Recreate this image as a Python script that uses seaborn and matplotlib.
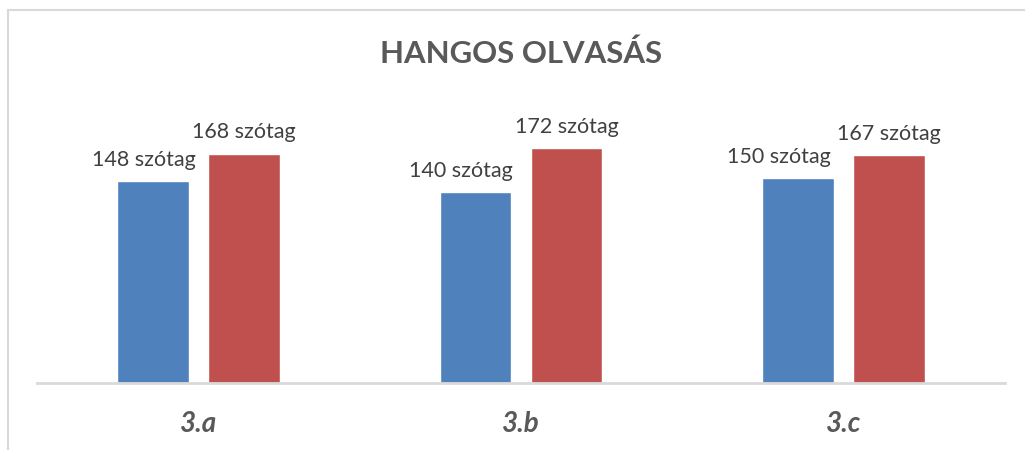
import matplotlib
matplotlib.use("Agg")
import matplotlib.pyplot as plt
import seaborn as sns
import pandas as pd
from matplotlib.lines import Line2D

# ---- data ----
categories = ["3.a", "3.b", "3.c"]
series_names = ["Első mérés", "Második mérés"]
values_first = [148, 140, 150]
values_second = [168, 172, 167]
unit = "szótag"
title = "HANGOS OLVASÁS"

df = pd.DataFrame({
    "osztaly": categories * 2,
    "meres": [series_names[0]] * 3 + [series_names[1]] * 3,
    "ertek": values_first + values_second,
})

sns.set_theme(style="white")
plt.rcParams["font.family"] = ["Lato", "DejaVu Sans"]

W, H = 1025, 450
fig = plt.figure(figsize=(W / 100, H / 100), dpi=100)
ax = fig.add_axes([37 / W, (H - 383) / H, (1005 - 37) / W, (383 - 110) / H])

palette = {series_names[0]: "#4F81BD", series_names[1]: "#C0504D"}
sns.barplot(data=df, x="osztaly", y="ertek", hue="meres", order=categories,
            hue_order=series_names, palette=palette, width=0.564, gap=0.21,
            saturation=1, legend=False, ax=ax)

ax.set_ylim(0, 200)
ax.set_xlim(-0.5, 2.5)
ax.set_xlabel("")
ax.set_ylabel("")
ax.set_yticks([])
for s in ["top", "right", "left"]:
    ax.spines[s].set_visible(False)
ax.spines["bottom"].set_color("#D9D9D9")
ax.spines["bottom"].set_linewidth(2)
ax.tick_params(axis="x", length=0, pad=20)
for lbl in ax.get_xticklabels():
    lbl.set_fontsize(20)
    lbl.set_fontweight("bold")
    lbl.set_fontstyle("italic")
    lbl.set_color("#595959")

# data labels
shifts = [[-9, -15, -19], [0, 0, 0]]
for ci, cont in enumerate(ax.containers):
    for bi, bar in enumerate(cont):
        x = bar.get_x() + bar.get_width() / 2
        y = bar.get_height()
        ax.annotate(f"{int(round(y))} {unit}", xy=(x, y),
                    xytext=(shifts[ci][bi] * 0.72, 11), textcoords="offset points",
                    ha="center", va="baseline", fontsize=15.5, color="#404040",
                    annotation_clip=False)

fig.text(521 / W, 1 - 54 / H, title, ha="center", va="center", fontsize=22.4,
         fontweight="bold", color="#595959")

# outer chart frame (cropped)
fig.add_artist(Line2D([7.5 / W, 7.5 / W], [0, 1 - 9.5 / H], transform=fig.transFigure,
                      color="#D9D9D9", lw=1.5))
fig.add_artist(Line2D([7.5 / W, 1], [1 - 9.5 / H, 1 - 9.5 / H], transform=fig.transFigure,
                      color="#D9D9D9", lw=1.5))

fig.savefig("out.png", dpi=100, facecolor="white")
